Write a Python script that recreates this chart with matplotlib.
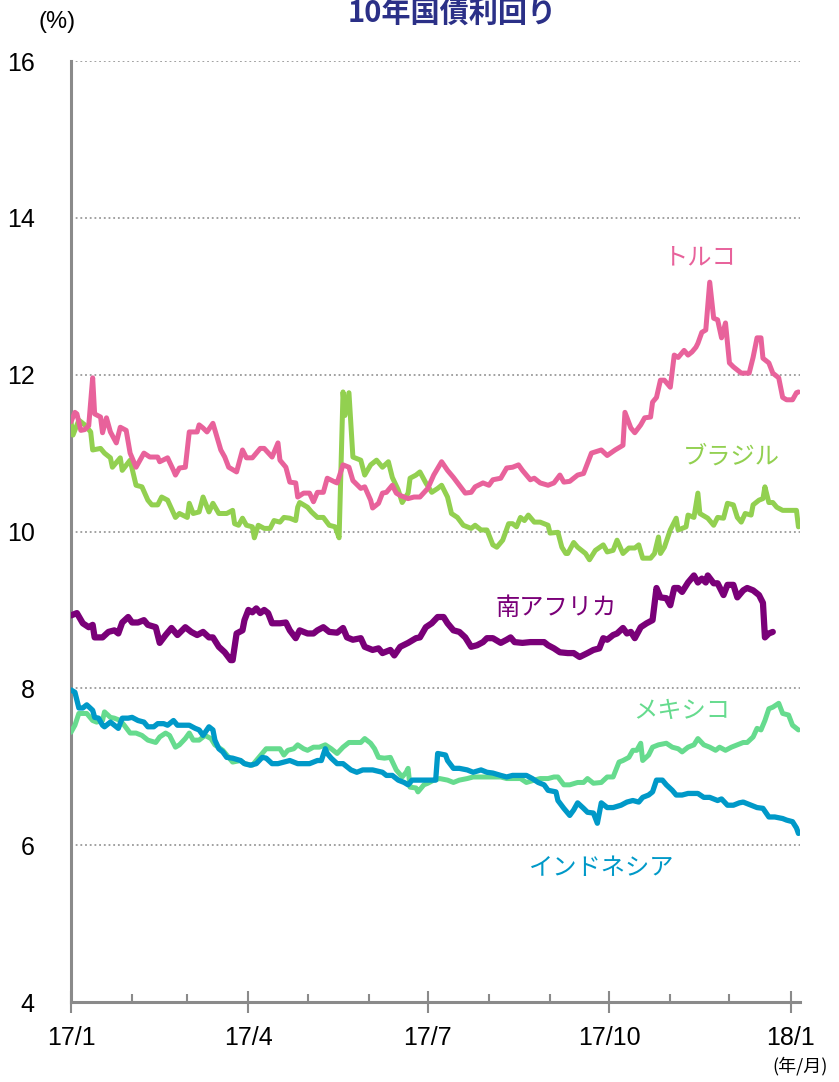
import numpy as np
import matplotlib
matplotlib.use("Agg")
import matplotlib.pyplot as plt
import matplotlib.dates as mdates

# ---- data (days since 2017-01-01, yield %) ----
turkey_days = [0, 2, 3, 5, 7, 9, 11, 12, 15, 16, 18, 20, 23, 25, 28, 30, 33, 37, 40, 44, 45, 49, 52, 53, 55, 58,
               60, 64, 65, 67, 69, 72, 76, 78, 80, 84, 87, 89, 92, 96, 98, 102, 105, 106, 109, 111, 114, 115, 118,
               121, 123, 125, 128, 130, 134, 135, 138, 141, 143, 145, 147, 149, 152, 153, 156, 158, 160, 163, 165,
               167, 171, 174, 177, 181, 184, 188, 191, 194, 197, 200, 203, 205, 209, 212, 214, 218, 221, 224, 227,
               229, 233, 235, 238, 242, 245, 248, 250, 253, 257, 260, 262, 264, 269, 272, 276, 280, 281, 284, 286,
               289, 291, 294, 295, 297, 299, 301, 304, 306, 308, 311, 313, 315, 317, 318, 320, 322, 324, 326, 328,
               330, 332, 334, 336, 340, 344, 346, 348, 350, 351, 354, 356, 359, 361, 363, 366, 368, 369]
turkey = [11.40, 11.52, 11.50, 11.29, 11.30, 11.35, 11.96, 11.50, 11.46, 11.26, 11.45, 11.27, 11.13, 11.33, 11.29,
          11.00, 10.82, 11.00, 10.95, 10.95, 10.89, 10.94, 10.78, 10.72, 10.81, 10.82, 11.27, 11.27, 11.36, 11.32,
          11.27, 11.38, 11.04, 10.95, 10.82, 10.76, 11.04, 10.94, 10.94, 11.06, 11.06, 10.95, 11.13, 10.91, 10.82,
          10.63, 10.62, 10.44, 10.49, 10.49, 10.38, 10.50, 10.50, 10.68, 10.63, 10.62, 10.85, 10.82, 10.65, 10.60,
          10.55, 10.57, 10.40, 10.30, 10.36, 10.49, 10.50, 10.59, 10.49, 10.46, 10.42, 10.44, 10.44, 10.55, 10.72,
          10.89, 10.78, 10.69, 10.59, 10.49, 10.50, 10.57, 10.62, 10.59, 10.66, 10.68, 10.81, 10.82, 10.85, 10.78,
          10.66, 10.68, 10.62, 10.59, 10.62, 10.72, 10.63, 10.64, 10.72, 10.74, 10.87, 11.00, 11.04, 10.97, 11.04,
          11.10, 11.52, 11.32, 11.26, 11.36, 11.45, 11.46, 11.65, 11.71, 11.93, 11.93, 11.84, 12.25, 12.22, 12.31,
          12.25, 12.29, 12.35, 12.40, 12.54, 12.57, 13.18, 12.72, 12.70, 12.47, 12.66, 12.15, 12.10, 12.02, 12.02,
          12.22, 12.47, 12.47, 12.21, 12.15, 12.02, 11.96, 11.71, 11.68, 11.68, 11.77, 11.78]

brazil_days = [0, 1, 4, 7, 10, 11, 15, 17, 20, 21, 25, 26, 30, 33, 36, 39, 41, 44, 46, 49, 53, 55, 59, 60, 62, 65,
               67, 70, 72, 75, 79, 82, 83, 85, 87, 89, 92, 93, 95, 98, 101, 103, 106, 108, 111, 114, 115, 116, 120,
               122, 125, 128, 131, 134, 136, 138, 139, 141, 143, 147, 149, 152, 155, 158, 161, 163, 166, 168, 171,
               172, 175, 177, 180, 183, 186, 188, 191, 193, 196, 199, 203, 205, 208, 211, 214, 216, 219, 222, 224,
               226, 228, 230, 232, 235, 238, 242, 243, 247, 249, 251, 252, 255, 257, 261, 263, 266, 270, 272, 275,
               277, 280, 283, 286, 288, 290, 294, 296, 298, 299, 301, 304, 307, 308, 312, 313, 316, 318, 319, 323,
               326, 328, 331, 333, 336, 338, 340, 342, 345, 346, 349, 351, 352, 354, 356, 358, 361, 365, 368, 369]
brazil = [11.40, 11.23, 11.42, 11.36, 11.27, 11.04, 11.06, 11.00, 10.94, 10.82, 10.94, 10.78, 10.91, 10.59, 10.57,
          10.40, 10.34, 10.34, 10.44, 10.40, 10.18, 10.23, 10.18, 10.36, 10.23, 10.25, 10.44, 10.25, 10.36, 10.23,
          10.23, 10.27, 10.10, 10.08, 10.17, 10.08, 10.06, 9.92, 10.08, 10.04, 10.04, 10.14, 10.12, 10.18, 10.17,
          10.14, 10.31, 10.37, 10.31, 10.25, 10.18, 10.18, 10.08, 10.06, 9.92, 11.78, 11.48, 11.77, 10.95, 10.91,
          10.72, 10.85, 10.91, 10.82, 10.89, 10.69, 10.53, 10.37, 10.49, 10.68, 10.72, 10.76, 10.62, 10.50, 10.55,
          10.59, 10.44, 10.23, 10.18, 10.08, 10.04, 10.08, 10.02, 10.02, 9.83, 9.80, 9.89, 10.10, 10.10, 10.06,
          10.18, 10.14, 10.21, 10.12, 10.12, 10.08, 9.98, 9.99, 9.80, 9.72, 9.72, 9.86, 9.80, 9.72, 9.64, 9.76,
          9.83, 9.74, 9.76, 9.89, 9.72, 9.79, 9.79, 9.83, 9.66, 9.66, 9.72, 9.93, 9.72, 9.80, 10.02, 10.17, 10.02,
          10.06, 10.21, 10.18, 10.49, 10.23, 10.17, 10.08, 10.18, 10.17, 10.36, 10.34, 10.18, 10.12, 10.23, 10.21,
          10.34, 10.40, 10.42, 10.57, 10.37, 10.37, 10.31, 10.27, 10.27, 10.27, 10.06]

safrica_days = [0, 3, 6, 9, 11, 12, 16, 19, 22, 24, 26, 29, 31, 34, 37, 39, 43, 45, 48, 51, 54, 58, 61, 64, 67, 70,
                72, 75, 78, 81, 82, 84, 87, 88, 90, 92, 94, 96, 98, 100, 102, 106, 109, 111, 114, 116, 120, 123,
                125, 128, 131, 135, 138, 140, 143, 147, 149, 153, 156, 158, 162, 164, 167, 171, 175, 177, 180, 183,
                186, 189, 191, 194, 197, 200, 203, 206, 209, 211, 214, 218, 221, 223, 225, 229, 233, 237, 240, 242,
                245, 248, 252, 255, 258, 262, 265, 268, 270, 272, 275, 277, 280, 282, 284, 286, 289, 292, 295, 297,
                299, 302, 304, 306, 308, 310, 313, 316, 318, 320, 322, 323, 326, 328, 331, 333, 336, 338, 341, 343,
                346, 349, 351, 352, 354, 356]
safrica = [8.93, 8.96, 8.83, 8.78, 8.81, 8.65, 8.65, 8.72, 8.74, 8.70, 8.84, 8.91, 8.84, 8.84, 8.87, 8.81, 8.78,
           8.58, 8.68, 8.77, 8.68, 8.78, 8.72, 8.68, 8.72, 8.65, 8.65, 8.53, 8.46, 8.36, 8.36, 8.70, 8.74, 8.87,
           9.00, 8.97, 9.02, 8.96, 9.00, 8.96, 8.83, 8.83, 8.84, 8.74, 8.64, 8.74, 8.70, 8.70, 8.74, 8.78, 8.72,
           8.71, 8.77, 8.65, 8.62, 8.64, 8.53, 8.49, 8.51, 8.45, 8.49, 8.42, 8.53, 8.58, 8.64, 8.65, 8.78, 8.83,
           8.91, 8.91, 8.83, 8.74, 8.72, 8.65, 8.53, 8.55, 8.59, 8.64, 8.64, 8.58, 8.62, 8.65, 8.59, 8.58, 8.59,
           8.59, 8.59, 8.55, 8.51, 8.46, 8.45, 8.45, 8.40, 8.45, 8.49, 8.51, 8.64, 8.62, 8.68, 8.70, 8.77, 8.70,
           8.72, 8.64, 8.78, 8.83, 8.87, 9.28, 9.16, 9.15, 9.06, 9.28, 9.28, 9.23, 9.35, 9.44, 9.35, 9.40, 9.35,
           9.44, 9.34, 9.34, 9.19, 9.32, 9.32, 9.16, 9.25, 9.28, 9.25, 9.19, 9.09, 8.65, 8.70, 8.72]

mexico_days = [0, 2, 4, 8, 11, 13, 16, 17, 20, 22, 25, 27, 30, 33, 36, 39, 43, 45, 48, 50, 53, 55, 58, 60, 62, 65,
               68, 71, 73, 77, 80, 82, 86, 88, 92, 94, 97, 99, 103, 106, 108, 110, 113, 115, 118, 120, 123, 126, 129,
               132, 135, 138, 141, 144, 147, 149, 152, 154, 156, 159, 162, 165, 168, 170, 171, 172, 175, 176, 179,
               181, 184, 187, 191, 194, 197, 201, 204, 208, 211, 214, 218, 221, 224, 228, 231, 235, 238, 242, 245,
               247, 250, 253, 257, 260, 262, 265, 269, 272, 275, 278, 280, 283, 285, 287, 289, 290, 293, 295, 298,
               302, 305, 308, 310, 313, 316, 318, 321, 324, 327, 329, 332, 335, 338, 341, 343, 346, 348, 350, 352,
               354, 356, 359, 361, 364, 366, 369]
mexico = [7.44, 7.53, 7.68, 7.68, 7.59, 7.57, 7.59, 7.70, 7.63, 7.62, 7.59, 7.53, 7.43, 7.43, 7.40, 7.34, 7.31,
          7.38, 7.43, 7.40, 7.25, 7.28, 7.36, 7.43, 7.34, 7.34, 7.40, 7.36, 7.28, 7.21, 7.12, 7.06, 7.08, 7.04,
          7.02, 7.08, 7.17, 7.23, 7.23, 7.23, 7.15, 7.21, 7.23, 7.28, 7.23, 7.21, 7.25, 7.25, 7.28, 7.23, 7.17,
          7.25, 7.31, 7.31, 7.31, 7.36, 7.30, 7.23, 7.12, 7.11, 7.12, 6.96, 6.87, 6.93, 6.98, 6.74, 6.73, 6.68,
          6.77, 6.79, 6.83, 6.85, 6.83, 6.80, 6.83, 6.85, 6.87, 6.87, 6.87, 6.87, 6.87, 6.85, 6.85, 6.85, 6.80,
          6.83, 6.85, 6.85, 6.87, 6.87, 6.77, 6.77, 6.80, 6.80, 6.85, 6.79, 6.80, 6.87, 6.87, 7.06, 7.08, 7.12,
          7.21, 7.21, 7.30, 7.08, 7.15, 7.25, 7.28, 7.30, 7.25, 7.23, 7.19, 7.25, 7.28, 7.36, 7.28, 7.25, 7.21,
          7.25, 7.21, 7.25, 7.28, 7.31, 7.31, 7.38, 7.49, 7.47, 7.59, 7.74, 7.76, 7.81, 7.68, 7.66, 7.53, 7.47]

indonesia_days = [0, 2, 4, 6, 8, 11, 12, 14, 16, 17, 20, 22, 24, 26, 29, 31, 34, 37, 39, 42, 44, 47, 49, 52, 54,
                  58, 60, 63, 65, 67, 70, 72, 73, 75, 77, 79, 82, 86, 88, 91, 94, 97, 99, 102, 105, 108, 111, 115,
                  118, 121, 125, 127, 129, 130, 132, 135, 138, 142, 145, 148, 153, 158, 160, 163, 166, 169, 171, 173,
                  177, 182, 185, 186, 190, 191, 194, 197, 201, 204, 208, 211, 214, 218, 221, 224, 228, 231, 234, 237,
                  240, 242, 246, 247, 250, 253, 255, 257, 260, 262, 265, 267, 269, 272, 275, 279, 282, 285, 288, 290,
                  293, 295, 297, 300, 302, 305, 307, 310, 313, 318, 321, 324, 328, 330, 333, 336, 339, 341, 345, 348,
                  351, 354, 357, 361, 363, 366, 368, 369]
indonesia = [7.98, 7.95, 7.75, 7.75, 7.79, 7.72, 7.63, 7.62, 7.53, 7.51, 7.57, 7.53, 7.49, 7.62, 7.62, 7.63, 7.59,
             7.57, 7.51, 7.51, 7.55, 7.55, 7.53, 7.59, 7.53, 7.53, 7.53, 7.49, 7.47, 7.40, 7.51, 7.47, 7.34, 7.23,
             7.19, 7.12, 7.11, 7.08, 7.04, 7.02, 7.04, 7.12, 7.11, 7.04, 7.04, 7.06, 7.08, 7.04, 7.04, 7.04, 7.08,
             7.08, 7.23, 7.17, 7.11, 7.04, 7.04, 6.96, 6.93, 6.96, 6.96, 6.93, 6.89, 6.89, 6.83, 6.80, 6.77, 6.83,
             6.83, 6.83, 6.83, 7.17, 7.15, 7.08, 6.98, 6.98, 6.96, 6.93, 6.96, 6.93, 6.92, 6.89, 6.87, 6.89, 6.89,
             6.89, 6.85, 6.80, 6.77, 6.70, 6.68, 6.57, 6.47, 6.38, 6.45, 6.54, 6.47, 6.42, 6.41, 6.28, 6.54, 6.48,
             6.48, 6.51, 6.55, 6.57, 6.55, 6.61, 6.64, 6.68, 6.83, 6.83, 6.77, 6.70, 6.64, 6.64, 6.66, 6.66, 6.61,
             6.61, 6.57, 6.59, 6.51, 6.51, 6.54, 6.55, 6.51, 6.48, 6.47, 6.36, 6.36, 6.34, 6.32, 6.30, 6.22, 6.15]

series_names = ["トルコ", "ブラジル", "南アフリカ", "メキシコ", "インドネシア"]
x_tick_labels = ["17/1", "17/4", "17/7", "17/10", "18/1"]
x_tick_dates = ["2017-01-01", "2017-04-01", "2017-07-01", "2017-10-01", "2018-01-01"]
y_ticks = [4, 6, 8, 10, 12, 14, 16]

# ---- style ----
colors = ["#E8629B", "#92D050", "#7A0078", "#66DB8E", "#0099C8"]
widths = [3.6, 3.6, 4.5, 3.6, 3.8]
# label anchors (day offset, value)
label_pos = [(319, 13.5), (335, 10.95), (246, 9.02), (310, 7.71), (269, 5.71)]

jp = ["Noto Sans CJK JP", "DejaVu Sans"]
num_font = ["Liberation Sans Narrow", "Liberation Sans", "DejaVu Sans"]

base = np.datetime64("2017-01-01")


def to_dates(days):
    return base + np.array(days, dtype="timedelta64[D]")


fig = plt.figure(figsize=(8.39, 10.82), dpi=100)
ax = fig.add_axes([0.0846, 0.0739, 0.954 - 0.0846, 0.9436 - 0.0739])

all_days = [turkey_days, brazil_days, safrica_days, mexico_days, indonesia_days]
all_vals = [turkey, brazil, safrica, mexico, indonesia]
order = [3, 4, 1, 0, 2]
for i in order:
    ax.plot(to_dates(all_days[i]), all_vals[i], color=colors[i], lw=widths[i],
            solid_joinstyle="round", solid_capstyle="round", zorder=3)

for i, name in enumerate(series_names):
    d, v = label_pos[i]
    ax.text(to_dates([d])[0], v, name, color=colors[i], fontsize=17.5, family=jp,
            ha="center", va="center")

ax.set_xlim(base, base + np.timedelta64(370, "D"))
ax.set_ylim(4, 16)

ax.set_yticks(y_ticks)
ax.set_yticklabels([str(t) for t in y_ticks], fontsize=18, family=num_font)
ax.tick_params(axis="y", length=0, pad=26)
for t in y_ticks[1:]:
    ax.axhline(t, color="#9A9A9A", lw=1.3, ls=(0, (1, 1.6)), zorder=1)

major = [np.datetime64(s) for s in x_tick_dates]
ax.set_xticks(major)
ax.set_xticklabels(x_tick_labels, fontsize=18, family=num_font)
ax.xaxis.set_minor_locator(mdates.MonthLocator())
ax.tick_params(axis="x", which="major", direction="inout", length=16, width=1.5,
               color="#8A8A8A", pad=9)
ax.tick_params(axis="x", which="minor", direction="in", length=6, width=1.5,
               color="#8A8A8A")

for s in ["top", "right"]:
    ax.spines[s].set_visible(False)
for s in ["left", "bottom"]:
    ax.spines[s].set_color("#8A8A8A")
    ax.spines[s].set_linewidth(2.2)

fig.text(57 / 839, 1 - 22 / 1082, "(%)", fontsize=17, family=num_font, ha="center", va="center")
fig.text(800 / 839, 1 - 1066 / 1082, "(年/月)", fontsize=13, family=jp, ha="center", va="center")
fig.text(452 / 839, 1 - 14 / 1082, "10年国債利回り", fontsize=21, family=jp, weight="bold",
         color="#2B3087", ha="center", va="center")

fig.savefig("out.png", dpi=100)
